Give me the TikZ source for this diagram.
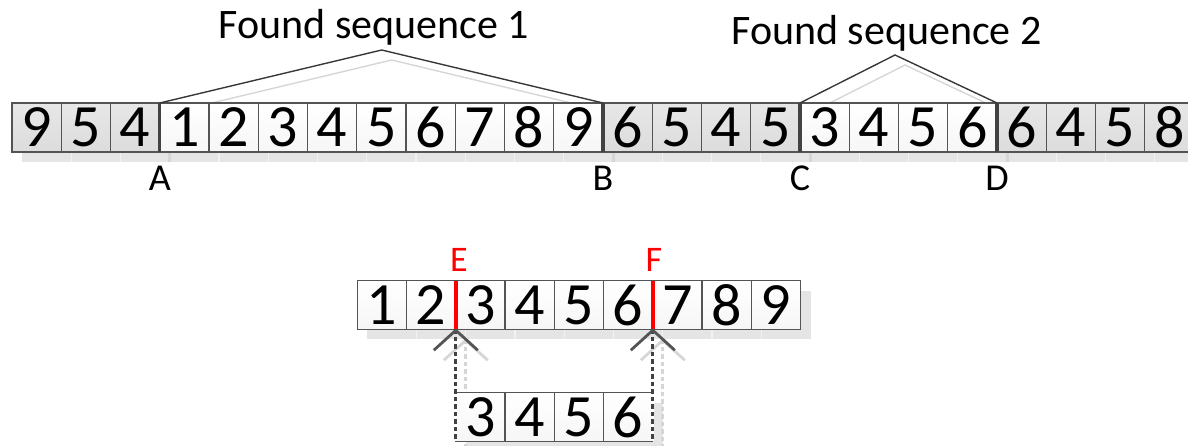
\documentclass[tikz,border=0pt]{standalone}
\usepackage{fontspec}
\setmainfont{Carlito}
\usetikzlibrary{positioning}
\definecolor{edge}{gray}{0.33}
\definecolor{cut}{gray}{0.26}
\definecolor{span}{gray}{0.22}
\definecolor{ghost}{gray}{0.9}
\definecolor{ghostline}{gray}{0.95}
\definecolor{ghostdark}{gray}{0.84}
\pgfdeclarelayer{back}
\pgfsetlayers{back,main}

\begin{document}
\begin{tikzpicture}[x=1pt,y=-1pt,
  cell/.style={draw=edge,line width=1.3pt,minimum width=49.25pt,minimum height=49pt,
    inner sep=0pt,outer sep=0pt,font=\fontsize{60}{60}\selectfont},
  lite/.style={cell,top color=white,bottom color=gray!7},
  dark/.style={cell,top color=gray!19,bottom color=gray!27},
  cutline/.style={draw=cut,line width=3.4pt},
  spanline/.style={draw=span,line width=1.4pt},
  hit/.style={draw=red,line width=4pt},
  link/.style={draw=cut,line width=3.2pt,dash pattern=on 4.5pt off 3pt},
  gap/.style={draw=white,line width=2.2pt},
  chev/.style={draw=edge,line width=2.8pt},
  title/.style={font=\fontsize{42}{42}\selectfont,anchor=base,inner sep=0pt},
  tag/.style={font=\fontsize{38}{38}\selectfont,inner sep=0pt},
  redtag/.style={font=\fontsize{36}{36}\selectfont,text=red,inner sep=0pt},
  sh/.style={shift={(10,10)}}
]
\clip (0,0) rectangle (1188,446);

% upper strip
\foreach \v/\s [count=\i] in {9/dark,5/dark,4/dark,1/lite,2/lite,3/lite,4/lite,5/lite,6/lite,
    7/lite,8/lite,9/lite,6/dark,5/dark,4/dark,5/dark,3/lite,4/lite,5/lite,6/lite,
    6/dark,4/dark,5/dark,8/dark}
  \node[\s] (top\i) at ({12+49.25*(\i-0.5)},127.5) {\v};

% cut points
\foreach \c/\t in {3/A,12/B,16/C,20/D}{
  \draw[cutline] (top\c.north east) -- (top\c.south east);
  \node[tag,below=14pt of top\c.south east] (cut\t) {\t};
}

% found sequences
\coordinate (peak1) at (381.7,50);
\coordinate (peak2) at (895,55);
\draw[spanline] (top4.north west) -- (peak1) -- (top12.north east);
\draw[spanline] (top17.north west) -- (peak2) -- (top20.north east);
\node[title] (seq1) at (374,39) {Found sequence 1};
\node[title] (seq2) at (886.5,45) {Found sequence 2};

% lower strip
\foreach \v [count=\i] in {1,...,9}
  \node[lite,minimum height=48.5pt] (bot\i) at ({357.3+49.25*(\i-0.5)},305) {\v};
\draw[hit] (bot2.north east) -- (bot2.south east);
\draw[hit] (bot6.north east) -- (bot6.south east);
\node[redtag,above=9pt of bot2.north east,xshift=3pt] (markE) {E};
\node[redtag,above=9pt of bot6.north east,xshift=1pt] (markF) {F};

% sub sequence
\foreach \v [count=\i] in {3,4,5,6}
  \node[lite,minimum height=48.7pt] (sub\i) at ({455.8+49.25*(\i-0.5)},417) {\v};
\draw[gap] (sub1.north west) -- (sub1.south west);
\draw[gap] (sub4.north east) -- (sub4.south east);
\draw[link] (bot2.south east) -- (sub1.south west);
\draw[link] (bot6.south east) -- (sub4.south east);
\draw[chev] (bot2.south east) ++(-22,21) -- ++(22,-20) -- ++(22,20);
\draw[chev] (bot6.south east) ++(-22,21) -- ++(22,-20) -- ++(22,20);

% drop shadows
\begin{pgfonlayer}{back}
\fill[ghost] ([sh]top1.north west) rectangle ([sh]top24.south east);
\fill[ghost] ([sh]bot1.north west) rectangle ([sh]bot9.south east);
\fill[ghost] ([sh]sub1.north west) rectangle ([sh]sub4.south east);
\foreach \i in {1,...,23}
  \draw[ghostline,line width=1.3pt] ([sh]top\i.north east) -- ([sh]top\i.south east);
\foreach \i in {1,...,8}
  \draw[ghostline,line width=1.3pt] ([sh]bot\i.north east) -- ([sh]bot\i.south east);
\foreach \c in {3,12,16,20}
  \draw[ghostdark,line width=3pt] ([sh]top\c.north east) -- ([sh]top\c.south east);
\draw[ghostdark,line width=1.4pt] ([sh]top4.north west) -- ([sh]peak1) -- ([sh]top12.north east);
\draw[ghostdark,line width=1.4pt] ([sh]top17.north west) -- ([sh]peak2) -- ([sh]top20.north east);
\draw[ghostdark,line width=3.2pt,dash pattern=on 4.5pt off 3pt] ([sh]bot2.south east) -- ([sh]sub1.south west);
\draw[ghostdark,line width=3.2pt,dash pattern=on 4.5pt off 3pt] ([sh]bot6.south east) -- ([sh]sub4.south east);
\draw[ghostdark,line width=2.8pt] ([sh]bot2.south east) ++(-22,21) -- ++(22,-20) -- ++(22,20);
\draw[ghostdark,line width=2.8pt] ([sh]bot6.south east) ++(-22,21) -- ++(22,-20) -- ++(22,20);
\end{pgfonlayer}
\end{tikzpicture}
\end{document}
